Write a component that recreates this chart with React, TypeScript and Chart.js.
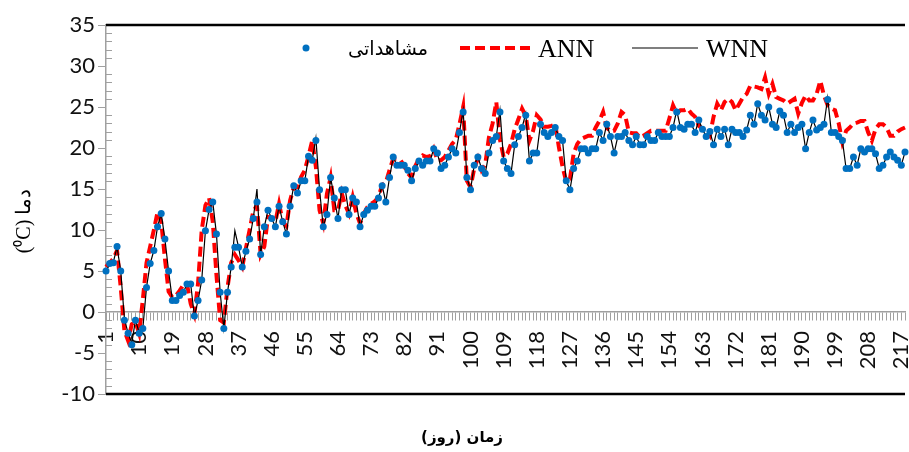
import { useEffect, useRef } from "react";
import { Chart, registerables } from "chart.js";

Chart.register(...registerables);

const days: string[] = Array.from({ length: 218 }, (_, i) => String(i + 1));
const shownDayLabels = ["1","10","19","28","37","46","55","64","73","82","91","100","109","118","127","136","145","154","163","172","181","190","199","208","217"];
const yMin = -10;
const yMax = 35;
const yStep = 5;

const observed = [
  5.0, 5.9, 6.0, 8.0, 5.0, -1.0, -2.6, -4.0, -1.0, -2.6,
  -2.0, 3.0, 5.9, 7.5, 10.4, 12.0, 8.9, 5.0, 1.4, 1.4,
  2.0, 2.4, 3.4, 3.4, -0.5, 1.4, 3.9, 9.9, 12.5, 13.4,
  9.5, 2.4, -2.0, 2.4, 5.5, 7.9, 7.9, 5.5, 7.4, 8.9,
  11.4, 13.4, 7.0, 10.4, 12.4, 11.4, 10.4, 12.9, 11.0, 9.5,
  12.9, 15.4, 14.5, 16.0, 16.0, 19.0, 18.5, 20.9, 14.9, 10.4,
  11.9, 16.4, 13.9, 11.4, 14.9, 14.9, 11.9, 13.9, 13.4, 10.4,
  11.9, 12.4, 12.9, 12.9, 13.9, 15.4, 13.4, 16.4, 18.9, 17.9,
  17.9, 17.9, 17.3, 16.0, 17.5, 18.4, 17.9, 18.4, 18.4, 19.9,
  19.4, 17.5, 17.9, 18.9, 19.9, 19.4, 21.9, 24.4, 16.4, 14.9,
  17.9, 18.9, 17.5, 16.9, 19.4, 20.9, 21.4, 24.4, 18.4, 17.5,
  16.9, 20.4, 21.4, 22.5, 24.0, 18.4, 19.4, 19.4, 22.9, 21.9,
  21.4, 21.9, 22.5, 21.4, 20.9, 16.0, 14.9, 17.5, 18.4, 19.9,
  19.9, 19.4, 19.9, 19.9, 21.9, 20.9, 22.9, 21.4, 19.4, 21.4,
  21.4, 21.9, 20.9, 20.4, 21.4, 20.4, 20.4, 21.4, 20.9, 20.9,
  21.9, 21.4, 21.4, 21.4, 22.5, 24.4, 22.5, 22.3, 22.9, 22.9,
  21.9, 23.4, 22.3, 21.4, 22.0, 20.4, 22.3, 21.4, 22.3, 20.4,
  22.3, 21.9, 21.9, 21.4, 22.2, 24.0, 22.9, 25.4, 24.0, 23.4,
  25.0, 22.9, 22.5, 24.5, 24.0, 21.9, 22.9, 21.9, 22.5, 22.9,
  19.9, 21.9, 23.4, 22.2, 22.5, 22.9, 25.9, 21.9, 21.9, 21.4,
  20.9, 17.5, 17.5, 18.9, 17.9, 19.9, 19.5, 19.9, 19.9, 19.3,
  17.5, 17.9, 18.9, 19.5, 18.9, 18.5, 17.9, 19.5
];

const ann = [
  5.5, 6.0, 6.5, 7.5, 3.0, -2.3, -3.5, -1.5, -1.2, -2.6,
  1.5, 6.0, 8.0, 10.0, 12.2, 11.0, 6.5, 2.5, 1.8, 2.0,
  2.6, 3.3, 3.4, 1.0, -0.3, 3.5, 10.0, 13.0, 13.9, 11.0,
  4.5, -1.0, -1.3, 3.0, 6.0, 7.0, 6.3, 5.5, 7.8, 10.0,
  12.3, 13.0, 7.0, 8.0, 11.6, 11.5, 11.0, 13.2, 11.0, 10.5,
  13.6, 15.2, 15.2, 16.5, 17.3, 19.0, 20.9, 17.7, 12.4, 10.8,
  14.4, 16.4, 12.4, 12.4, 14.5, 13.0, 12.0, 14.0, 12.0, 10.8,
  12.0, 12.8, 13.2, 13.5, 14.0, 15.5, 15.8, 17.3, 18.7, 18.7,
  18.5, 17.8, 16.9, 16.4, 17.8, 18.7, 19.1, 18.9, 19.0, 19.9,
  18.5, 18.5, 18.9, 19.7, 20.5, 21.0, 22.9, 25.0, 16.0, 15.2,
  17.5, 18.7, 17.3, 18.0, 21.3, 23.0, 25.6, 21.0, 18.9, 19.3,
  20.5, 22.3, 23.5, 24.8, 23.9, 20.9, 22.1, 24.0, 23.5, 22.6,
  22.6, 22.7, 22.9, 20.1, 17.7, 15.9, 16.2, 19.3, 20.5, 21.1,
  21.3, 21.5, 21.5, 22.5, 23.3, 24.4, 22.5, 22.0, 22.1, 23.0,
  24.4, 24.0, 21.9, 21.8, 21.8, 21.3, 21.5, 21.8, 22.1, 22.1,
  22.1, 22.1, 22.1, 23.6, 25.2, 24.2, 24.6, 24.6, 24.8, 24.2,
  23.8, 22.7, 22.3, 22.1, 21.5, 23.8, 25.4, 24.6, 25.6, 26.0,
  25.6, 24.6, 25.4, 26.2, 26.6, 27.6, 27.5, 27.4, 27.2, 28.6,
  26.6, 27.8, 26.2, 26.0, 25.8, 25.4, 25.7, 26.0, 24.2, 25.5,
  26.4, 25.8, 25.8, 26.6, 28.2, 26.4, 25.2, 24.8, 24.6, 23.0,
  20.7, 22.1, 22.5, 23.0, 23.1, 23.3, 23.3, 21.9, 20.9, 22.3,
  22.9, 22.9, 22.5, 21.5, 21.5, 22.0, 22.3, 22.5
];

const wnn = [
  5.0, 5.8, 6.1, 7.9, 5.0, -0.8, -2.6, -3.8, -1.0, -2.5,
  -2.0, 3.0, 5.9, 7.5, 10.4, 12.0, 8.9, 5.0, 1.5, 1.4,
  2.0, 2.4, 3.4, 3.4, -0.5, 1.4, 3.9, 9.9, 12.5, 13.4,
  9.5, 2.4, -2.0, 2.4, 5.5, 9.9, 7.9, 5.5, 7.4, 8.9,
  11.4, 15.0, 7.0, 10.4, 12.4, 11.4, 10.4, 12.9, 11.0, 9.5,
  12.9, 15.4, 14.5, 16.0, 16.0, 19.0, 18.5, 21.2, 14.9, 10.4,
  11.9, 16.4, 13.9, 11.4, 14.9, 14.9, 11.9, 13.9, 13.4, 10.4,
  11.9, 12.4, 12.9, 12.9, 13.9, 15.4, 13.4, 16.4, 18.9, 17.9,
  17.9, 17.9, 17.3, 16.0, 17.5, 18.4, 17.9, 18.4, 18.4, 19.9,
  19.4, 17.5, 17.9, 18.9, 19.9, 19.4, 21.9, 24.6, 16.4, 14.9,
  17.9, 18.9, 17.5, 16.9, 19.4, 20.9, 21.4, 24.6, 18.4, 17.5,
  16.9, 20.4, 21.4, 22.5, 24.2, 18.4, 19.4, 19.4, 22.9, 21.9,
  21.4, 21.9, 22.5, 21.4, 20.9, 16.0, 14.9, 17.5, 18.4, 19.9,
  19.9, 19.4, 19.9, 19.9, 21.9, 20.9, 22.9, 21.4, 19.4, 21.4,
  21.4, 21.9, 20.9, 20.4, 21.4, 20.4, 20.4, 21.4, 20.9, 20.9,
  21.9, 21.4, 21.4, 21.4, 22.5, 24.6, 22.5, 22.3, 22.9, 22.9,
  21.9, 23.4, 22.3, 21.4, 22.0, 20.4, 22.3, 21.4, 22.3, 20.4,
  22.3, 21.9, 21.9, 21.4, 22.2, 24.0, 22.9, 25.4, 24.0, 23.4,
  25.0, 22.9, 22.5, 24.5, 24.0, 21.9, 22.9, 21.9, 22.5, 22.9,
  19.9, 21.9, 23.4, 22.2, 22.5, 22.9, 26.1, 21.9, 21.9, 21.4,
  20.9, 17.5, 17.5, 18.9, 17.9, 19.9, 19.5, 19.9, 19.9, 19.3,
  17.5, 17.9, 18.9, 19.5, 18.9, 18.5, 17.9, 19.5
];

const obsName = "مشاهداتی";
const annName = "ANN";
const wnnName = "WNN";
const xTitle = "زمان (روز)";
const yTitle = "(⁰C) دما";

const BLUE = "#0070C0";
const RED = "#FF0000";
const AXIS_GRAY = "#a0a0a0";

const decorPlugin = {
  id: "decor",
  beforeDatasetsDraw(chart: any) {
    const { ctx, chartArea, scales } = chart;
    const ys = scales.y;
    ctx.save();
    ctx.strokeStyle = AXIS_GRAY;
    ctx.lineWidth = 1;
    for (let v = yMin; v <= yMax; v++) {
      if (v % yStep === 0) continue;
      const py = Math.round(ys.getPixelForValue(v)) + 0.5;
      ctx.beginPath();
      ctx.moveTo(chartArea.left, py);
      ctx.lineTo(chartArea.left + 6, py);
      ctx.stroke();
    }
    ctx.strokeStyle = "#000";
    ctx.lineWidth = 2.5;
    for (const v of [yMax, yMin]) {
      const py = ys.getPixelForValue(v);
      ctx.beginPath();
      ctx.moveTo(chartArea.left, py);
      ctx.lineTo(chartArea.right, py);
      ctx.stroke();
    }
    ctx.restore();
  },
  afterDraw(chart: any) {
    const { ctx } = chart;
    ctx.save();
    // legend: observed
    ctx.fillStyle = BLUE;
    ctx.beginPath();
    ctx.arc(306, 48, 3.5, 0, Math.PI * 2);
    ctx.fill();
    ctx.fillStyle = "#000";
    let fs = 20;
    ctx.font = `${fs}px "DejaVu Sans"`;
    const w = ctx.measureText(obsName).width;
    fs = (fs * 80) / w;
    ctx.font = `${fs}px "DejaVu Sans"`;
    ctx.textAlign = "right";
    ctx.textBaseline = "middle";
    ctx.direction = "rtl";
    ctx.fillText(obsName, 428, 50);
    ctx.direction = "ltr";
    // ANN
    ctx.strokeStyle = RED;
    ctx.lineWidth = 4;
    ctx.setLineDash([10, 5]);
    ctx.beginPath();
    ctx.moveTo(460, 48);
    ctx.lineTo(531, 48);
    ctx.stroke();
    ctx.setLineDash([]);
    ctx.font = '26px "Liberation Serif"';
    ctx.textAlign = "left";
    ctx.textBaseline = "alphabetic";
    ctx.fillText(annName, 538, 57);
    // WNN
    ctx.strokeStyle = "#000";
    ctx.lineWidth = 1.2;
    ctx.beginPath();
    ctx.moveTo(632, 48);
    ctx.lineTo(698, 48);
    ctx.stroke();
    ctx.fillText(wnnName, 706, 57);
    // x title
    ctx.font = 'bold 15px "DejaVu Sans"';
    ctx.textAlign = "center";
    ctx.textBaseline = "middle";
    ctx.direction = "rtl";
    ctx.fillText(xTitle, 462, 438);
    ctx.direction = "ltr";
    // y title
    ctx.translate(25, 221);
    ctx.rotate(-Math.PI / 2);
    ctx.font = '20px "Liberation Serif"';
    ctx.textAlign = "center";
    ctx.textBaseline = "middle";
    ctx.fillText(yTitle, 0, 0);
    ctx.restore();
  },
};

export default function App() {
  const ref = useRef<HTMLCanvasElement | null>(null);
  useEffect(() => {
    if (!ref.current) return;
    const tickFont = { family: "Lato", size: 22 };
    const chart = new Chart(ref.current, {
      type: "line",
      data: {
        labels: days,
        datasets: [
          {
            label: obsName,
            data: observed,
            showLine: false,
            pointRadius: 3.5,
            pointBorderWidth: 0,
            pointBackgroundColor: BLUE,
            borderColor: BLUE,
            order: 0,
          },
          {
            label: wnnName,
            data: wnn,
            borderColor: "#000",
            borderWidth: 1.2,
            pointRadius: 0,
            tension: 0,
            order: 1,
          },
          {
            label: annName,
            data: ann,
            borderColor: RED,
            borderWidth: 4,
            borderDash: [10, 5],
            pointRadius: 0,
            tension: 0,
            order: 2,
          },
        ],
      },
      options: {
        responsive: false,
        animation: false,
        devicePixelRatio: 1,
        layout: { padding: { top: 25, left: 0, right: 0, bottom: 58 } },
        plugins: { legend: { display: false }, tooltip: { enabled: false }, title: { display: false } },
        scales: {
          x: {
            type: "category",
            position: { y: 0 } as any,
            offset: false,
            grid: { display: true, drawOnChartArea: false, drawTicks: true, tickLength: 8, color: AXIS_GRAY, lineWidth: 1 },
            border: { display: true, color: AXIS_GRAY, width: 1.5 },
            ticks: {
              autoSkip: false,
              maxRotation: 90,
              minRotation: 90,
              padding: 11,
              color: "#111",
              font: tickFont,
              callback: (_v: any, i: number) => (shownDayLabels.includes(days[i]) ? days[i] : ""),
            },
            afterFit: (s: any) => {
              s.height = 58;
              s.paddingLeft = 0;
              s.paddingRight = 0;
              s.paddingTop = 0;
              s.paddingBottom = 0;
            },
          },
          y: {
            min: yMin,
            max: yMax,
            grid: { display: true, drawOnChartArea: false, drawTicks: true, tickLength: 8, color: AXIS_GRAY },
            border: { display: true, color: AXIS_GRAY, width: 1.5 },
            ticks: { stepSize: yStep, color: "#111", font: tickFont, padding: 3 },
            afterFit: (s: any) => {
              s.width = 106;
              s.paddingTop = 0;
              s.paddingBottom = 0;
            },
          },
        },
      },
      plugins: [decorPlugin],
    });
    return () => chart.destroy();
  }, []);
  return (
    <canvas
      ref={ref}
      width={909}
      height={452}
      style={{ position: "fixed", left: 0, top: 0, width: 909, height: 452, display: "block", background: "#fff" }}
    />
  );
}
